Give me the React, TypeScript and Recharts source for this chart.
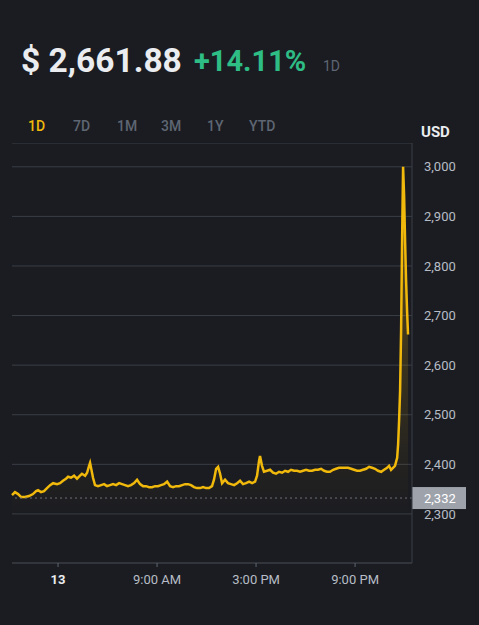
import React from 'react'
import {
  ComposedChart,
  Area,
  XAxis,
  YAxis,
  CartesianGrid,
  ReferenceLine,
} from 'recharts'

// hours on the time axis (tick "13" sits at 3)
const times = [
  0.21, 0.39, 0.58, 0.76, 1.0, 1.24, 1.48, 1.67, 1.79, 1.97, 2.15, 2.33, 2.52, 2.7, 2.94,
  3.12, 3.3, 3.48, 3.61, 3.79, 3.97, 4.15, 4.33, 4.45, 4.64, 4.76, 4.88, 4.94, 5.0, 5.12,
  5.24, 5.42, 5.61, 5.79, 5.97, 6.15, 6.33, 6.52, 6.7, 6.88, 7.06, 7.24, 7.42, 7.61, 7.79,
  7.97, 8.15, 8.33, 8.52, 8.7, 8.88, 9.06, 9.24, 9.42, 9.61, 9.79, 9.97, 10.15, 10.33, 10.52,
  10.7, 10.88, 11.06, 11.24, 11.42, 11.61, 11.79, 11.97, 12.15, 12.33, 12.45, 12.58, 12.7, 12.82, 12.94,
  13.12, 13.3, 13.48, 13.67, 13.85, 14.03, 14.21, 14.39, 14.58, 14.76, 14.94, 15.06, 15.18, 15.24, 15.36,
  15.48, 15.67, 15.85, 16.03, 16.21, 16.39, 16.58, 16.76, 16.94, 17.12, 17.3, 17.48, 17.67, 17.85, 18.03,
  18.21, 18.39, 18.58, 18.76, 18.94, 19.12, 19.3, 19.48, 19.67, 19.85, 20.03, 20.21, 20.39, 20.58, 20.76,
  20.94, 21.12, 21.3, 21.48, 21.67, 21.85, 22.03, 22.21, 22.39, 22.58, 22.76, 22.94, 23.06, 23.18, 23.3,
  23.42, 23.55, 23.61, 23.67, 23.73, 23.79, 23.85, 23.91, 23.97, 24.03, 24.09, 24.15, 24.21,
]

const prices = [
  2338, 2344, 2340, 2334, 2334, 2336, 2340, 2346, 2348, 2344, 2346, 2352, 2358, 2362, 2360,
  2362, 2367, 2371, 2375, 2373, 2377, 2371, 2377, 2381, 2377, 2383, 2397, 2403, 2393, 2373,
  2358, 2356, 2358, 2360, 2356, 2358, 2360, 2358, 2362, 2360, 2358, 2356, 2358, 2362, 2369,
  2360, 2356, 2356, 2354, 2354, 2356, 2356, 2358, 2360, 2365, 2356, 2354, 2356, 2356, 2358,
  2360, 2360, 2358, 2354, 2352, 2352, 2354, 2352, 2352, 2356, 2369, 2391, 2395, 2381, 2362,
  2369, 2362, 2360, 2358, 2362, 2367, 2360, 2362, 2365, 2362, 2365, 2377, 2407, 2417, 2397,
  2385, 2387, 2389, 2383, 2381, 2385, 2383, 2387, 2385, 2389, 2387, 2387, 2385, 2387, 2389,
  2387, 2387, 2389, 2389, 2391, 2387, 2385, 2385, 2389, 2391, 2393, 2393, 2393, 2393, 2391,
  2389, 2387, 2387, 2389, 2391, 2395, 2393, 2391, 2387, 2385, 2389, 2393, 2397, 2389, 2393,
  2397, 2413, 2441, 2490, 2550, 2671, 2852, 3000, 2943, 2852, 2772, 2711, 2661.88,
]

const data = times.map((t, i) => ({ t, price: prices[i] }))

const yTicks = [2300, 2400, 2500, 2600, 2700, 2800, 2900, 3000]
const xTicks = [3, 9, 15, 21]
const xTickLabels: { [k: number]: string } = {
  3: '13',
  9: '9:00 AM',
  15: '3:00 PM',
  21: '9:00 PM',
}
const tabs = ['1D', '7D', '1M', '3M', '1Y', 'YTD']
const tabX = [28, 73, 117, 161, 207, 249]
const currentPrice = 2332

const BG = '#1b1c21'
const YELLOW = '#f0b90b'
const MUTED = '#b7bdc6'
const DIM = '#5e6673'

const XTick = ({ x, y, payload }: any) => {
  const isDate = payload.value === 3
  return (
    <text
      x={x}
      y={y}
      dy="0.71em"
      textAnchor="middle"
      fontSize={13}
      fontWeight={isDate ? 700 : 400}
      fill={isDate ? '#eaecef' : MUTED}
    >
      {xTickLabels[payload.value]}
    </text>
  )
}

const PriceTag = ({ viewBox }: any) => {
  const x = viewBox.x + viewBox.width
  const y = viewBox.y
  return (
    <g>
      <rect x={x} y={y - 11} width={54} height={22} fill="#9da2ab" />
      <text x={x + 12} y={y + 5} fontSize={13} fill="#ffffff">
        2,332
      </text>
    </g>
  )
}

export default function App() {
  return (
    <div
      style={{
        position: 'fixed',
        left: 0,
        top: 0,
        width: 479,
        height: 625,
        background: BG,
        fontFamily: 'Roboto, "Noto Sans", sans-serif',
        overflow: 'hidden',
      }}
    >
      <svg width={479} height={143} style={{ position: 'absolute', left: 0, top: 0 }}>
        <text x={21} y={72} fontSize={33.5} fontWeight={700} fill="#eaecef">
          $ 2,661.88
        </text>
        <text x={194} y={71} fontSize={29} fontWeight={700} fill="#2ebd85">
          +14.11%
        </text>
        <text x={323} y={71} fontSize={14} fill={DIM}>
          1D
        </text>
        {tabs.map((tab, i) => (
          <text
            key={tab}
            x={tabX[i]}
            y={131}
            fontSize={14}
            fontWeight={500}
            fill={i === 0 ? YELLOW : DIM}
          >
            {tab}
          </text>
        ))}
        <text x={421} y={137} fontSize={15} fontWeight={700} fill="#eaecef">
          USD
        </text>
      </svg>
      <div style={{ position: 'absolute', left: 0, top: 143 }}>
        <ComposedChart
          width={479}
          height={482}
          data={data}
          margin={{ top: 0, right: 0, left: 12, bottom: 0 }}
        >
          <defs>
            <linearGradient id="priceFill" x1="0" y1="0" x2="0" y2="1">
              <stop offset="0%" stopColor={YELLOW} stopOpacity={0.6} />
              <stop offset="40%" stopColor={YELLOW} stopOpacity={0.3} />
              <stop offset="75%" stopColor={YELLOW} stopOpacity={0.07} />
              <stop offset="88%" stopColor={YELLOW} stopOpacity={0} />
            </linearGradient>
          </defs>
          <CartesianGrid vertical={false} stroke="#3a3e46" />
          <XAxis
            dataKey="t"
            type="number"
            domain={[0.21, 24.45]}
            ticks={xTicks}
            height={62}
            axisLine={{ stroke: '#3a3e46' }}
            tickLine={{ stroke: '#5e6673' }}
            tickSize={4}
            tickMargin={8}
            tick={<XTick />}
          />
          <YAxis
            orientation="right"
            type="number"
            domain={[2201, 3048]}
            ticks={yTicks}
            width={67}
            axisLine={{ stroke: '#3a3e46' }}
            tickLine={false}
            tickSize={0}
            tickMargin={12}
            tick={{ fill: MUTED, fontSize: 13 }}
            tickFormatter={(v: number) => v.toLocaleString('en-US')}
          />
          <ReferenceLine
            y={currentPrice}
            stroke="#6b707a"
            strokeDasharray="2 3"
            label={<PriceTag />}
          />
          <Area
            type="linear"
            dataKey="price"
            stroke={YELLOW}
            strokeWidth={2.5}
            fill="url(#priceFill)"
            dot={false}
            activeDot={false}
            isAnimationActive={false}
          />
        </ComposedChart>
      </div>
    </div>
  )
}
